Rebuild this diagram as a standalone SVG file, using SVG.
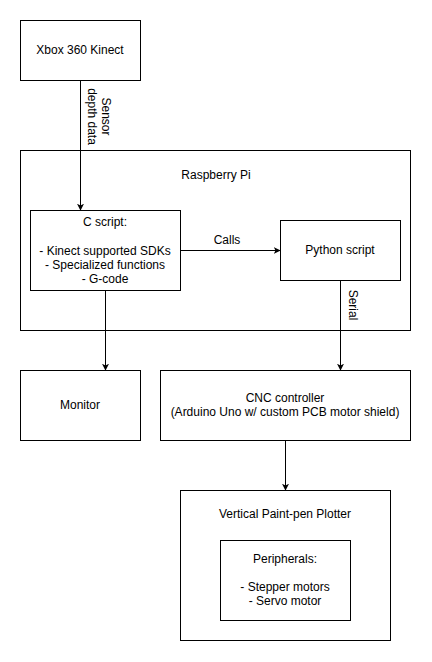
<svg xmlns="http://www.w3.org/2000/svg" width="432" height="662" viewBox="0 0 432 662">
<defs>
<style>
.box{fill:#fff;stroke:#000;stroke-width:1}
.t{font-family:"Liberation Sans",Arial,sans-serif;font-size:12px;fill:#000;text-anchor:middle;dominant-baseline:central}
.e{stroke:#000;stroke-width:1;fill:none;marker-end:url(#arr)}
</style>
<marker id="arr" viewBox="0 0 10 10" refX="9" refY="5" markerWidth="7" markerHeight="7" markerUnits="userSpaceOnUse" orient="auto">
<path d="M0,0 L10,5 L0,10 L2.5,5 Z" fill="#000"/>
</marker>
</defs>
<rect width="432" height="662" fill="#fff"/>
<g id="rpi">
<rect class="box" x="20.5" y="150.5" width="390" height="180"/>
<text class="t" x="216" y="175">Raspberry Pi</text>
</g>
<g id="xbox">
<rect class="box" x="20.5" y="20.5" width="120" height="60"/>
<text class="t" x="80" y="50">Xbox 360 Kinect</text>
</g>
<g id="cscript">
<rect class="box" x="30.5" y="210.5" width="150" height="80"/>
<text class="t" x="105" y="222">C script:</text>
<text class="t" x="105" y="251">- Kinect supported SDKs</text>
<text class="t" x="105" y="265">- Specialized functions</text>
<text class="t" x="105" y="279">- G-code</text>
</g>
<g id="python">
<rect class="box" x="280.5" y="220.5" width="120" height="60"/>
<text class="t" x="340" y="250">Python script</text>
</g>
<g id="monitor">
<rect class="box" x="20.5" y="370.5" width="120" height="70"/>
<text class="t" x="80" y="405">Monitor</text>
</g>
<g id="cnc">
<rect class="box" x="160.5" y="370.5" width="250" height="70"/>
<text class="t" x="285" y="398">CNC controller</text>
<text class="t" x="285" y="412">(Arduino Uno w/ custom PCB motor shield)</text>
</g>
<g id="plotter">
<rect class="box" x="180.5" y="490.5" width="210" height="150"/>
<text class="t" x="285" y="514">Vertical Paint-pen Plotter</text>
</g>
<g id="peripherals">
<rect class="box" x="220.5" y="540.5" width="130" height="80"/>
<text class="t" x="285" y="559">Peripherals:</text>
<text class="t" x="285" y="587">- Stepper motors</text>
<text class="t" x="285" y="601">- Servo motor</text>
</g>
<g id="connectors">
<path class="e" d="M80.5,80.5 V210"/>
<path class="e" d="M180.5,250.5 H280"/>
<path class="e" d="M105.5,290.5 V370"/>
<path class="e" d="M340.5,280.5 V370"/>
<path class="e" d="M285.5,440.5 V490"/>
<g transform="translate(98.5,116.5) rotate(90)">
<text class="t" x="0" y="-7">Sensor</text>
<text class="t" x="0" y="7">depth data</text>
</g>
<text class="t" x="227" y="240">Calls</text>
<text class="t" transform="translate(353,305) rotate(90)" x="0" y="0">Serial</text>
</g>
</svg>
